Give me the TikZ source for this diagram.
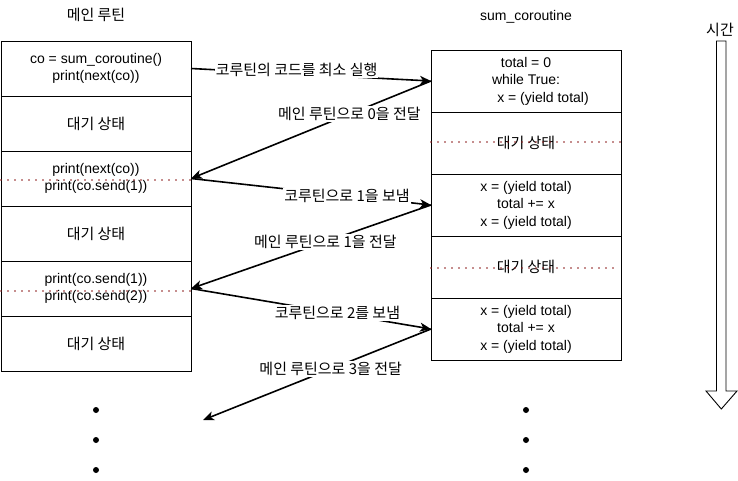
\documentclass[tikz,border=0pt]{standalone}
\usepackage{fontspec}
\setmainfont{Liberation Sans}
\newfontfamily\kr[Scale=1.07]{Noto Sans CJK KR}
\usetikzlibrary{arrows.meta, positioning}
\definecolor{waitred}{HTML}{8B1A1A}
\tikzset{
  mbox/.style={draw, line width=0.9pt, minimum width=190pt, minimum height=55pt,
               outer sep=0pt, align=center, font=\fontsize{14}{17.5}\selectfont},
  cbox/.style={mbox, minimum height=62pt},
  arr/.style={-{Stealth[length=11pt, width=9pt, inset=3pt]}, line width=1.6pt},
  labl/.style={fill=white, inner sep=1pt, font=\kr\fontsize{14}{16}\selectfont},
  waitline/.style={waitred, line width=1.9pt, line cap=round, dash pattern=on 0pt off 7pt},
  bigdot/.style={circle, fill, inner sep=0pt, minimum size=6pt},
  ttl/.style={font=\fontsize{14}{16}\selectfont},
}
\begin{document}
\begin{tikzpicture}[x=1pt, y=-1pt]
  \useasboundingbox (0,0) rectangle (738,481);

  %% Main routine column
  \node[ttl] (mt) at (96,15) {\kr 메인 루틴};
  \node[mbox] (m1) at (96,68.5) {co = sum\_coroutine()\\print(next(co))};
  \node[mbox, below=0pt of m1] (m2) {\kr 대기 상태};
  \node[mbox, below=0pt of m2] (m3) {print(next(co))\\print(co.send(1))};
  \node[mbox, below=0pt of m3] (m4) {\kr 대기 상태};
  \node[mbox, below=0pt of m4] (m5) {print(co.send(1))\\print(co.send(2))};
  \node[mbox, below=0pt of m5] (m6) {\kr 대기 상태};

  %% Coroutine column
  \node[ttl] (ct) at (526,17) {sum\_coroutine};
  \node[cbox] (s1) at (526,81) {total = 0\\while True:\\\hspace*{34pt}x = (yield total)};
  \node[cbox, below=0pt of s1] (s2) {\kr 대기 상태};
  \node[cbox, below=0pt of s2] (s3) {x = (yield total)\\total += x\\x = (yield total)};
  \node[cbox, below=0pt of s3] (s4) {\kr 대기 상태};
  \node[cbox, below=0pt of s4] (s5) {x = (yield total)\\total += x\\x = (yield total)};

  %% Waiting lines
  \draw[waitline] ([yshift=-1.5pt]m3.west) -- ([yshift=-1.5pt]m3.east);
  \draw[waitline] ([yshift=-2.5pt]m5.west) -- ([yshift=-2.5pt]m5.east);
  \draw[waitline] ([yshift=1pt]s2.west) -- ([yshift=1pt]s2.east);
  \draw[waitline] ([yshift=-1pt]s4.west) -- ([xshift=-4pt, yshift=-1pt]s4.east);

  %% Hand-overs
  \coordinate (nx) at (203,420);
  \draw[arr] (m1.east) -- node[labl, pos=0.44, yshift=4pt] {코루틴의 코드를 최소 실행} (s1.west);
  \draw[arr] (s1.west) -- node[labl, pos=0.34] {메인 루틴으로 0을 전달} (m3.east);
  \draw[arr] (m3.east) -- node[labl, pos=0.65] {코루틴으로 1을 보냄} (s3.west);
  \draw[arr] (s3.west) -- node[labl, pos=0.44] {메인 루틴으로 1을 전달} (m5.east);
  \draw[arr] (m5.east) -- node[labl, pos=0.61] {코루틴으로 2를 보냄} (s5.west);
  \draw[arr] (s5.west) -- node[labl, pos=0.44] {메인 루틴으로 3을 전달} (nx);

  %% More steps
  \node[bigdot] (ld1) at (96,410) {};
  \node[bigdot] (ld2) at (96,440) {};
  \node[bigdot] (ld3) at (96,470) {};
  \node[bigdot] (rd1) at (526,410) {};
  \node[bigdot] (rd2) at (526,440) {};
  \node[bigdot] (rd3) at (526,470) {};

  %% Time axis
  \node[ttl] (tl) at (720,30) {\kr 시간};
  \draw[line width=0.9pt, fill=white] (716.5,41) -- (726,41) -- (726,391) -- (737,391)
    -- (721.3,409) -- (706,391) -- (716.5,391) -- cycle;

\end{tikzpicture}
\end{document}
